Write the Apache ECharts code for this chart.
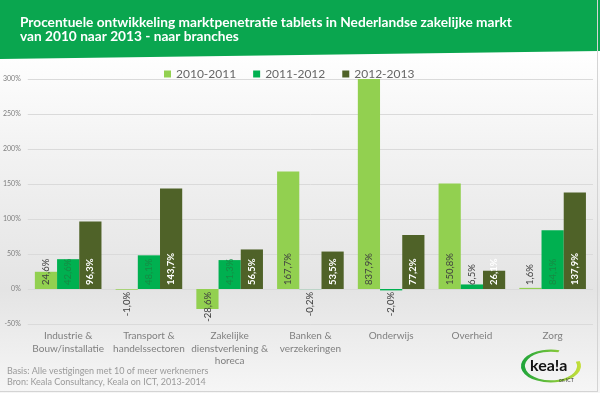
<!DOCTYPE html>
<html>
<head>
<meta charset="utf-8">
<script src="https://cdn.jsdelivr.net/npm/echarts@6/dist/echarts.min.js"></script>
<style>
html,body{margin:0;padding:0;background:#fff;}
#chart{width:600px;height:393px;}
</style>
</head>
<body>
<div id="chart"></div>
<script>
// ---- data ----
const titleLines = ['Procentuele ontwikkeling marktpenetratie tablets in Nederlandse zakelijke markt', 'van 2010 naar 2013 - naar branches'];
const categories = ['Industrie &\nBouw/installatie', 'Transport &\nhandelssectoren', 'Zakelijke\ndienstverlening &\nhoreca', 'Banken &\nverzekeringen', 'Onderwijs', 'Overheid', 'Zorg'];
const seriesNames = ['2010-2011', '2011-2012', '2012-2013'];
const values2010_2011 = [24.6, -1.0, -28.6, 167.7, 837.9, 150.8, 1.6];
const values2011_2012 = [42.6, 48.1, 41.3, -0.2, -2.0, 6.5, 84.1];
const values2012_2013 = [96.3, 143.7, 56.5, 53.5, 77.2, 26.1, 137.9];
const yMin = -50, yMax = 300, yInterval = 50;
const footerLines = ['Basis: Alle vestigingen met 10 of meer werknemers', 'Bron: Keala Consultancy, Keala on ICT, 2013-2014'];

// ---- styling ----
const FONT = 'Lato';
const colors = ['#92d050', '#00b050', '#4f6228'];

function fmt(v) { return v.toFixed(1).replace('.', ',') + '%'; }

function buildData(vals, idx) {
  return vals.map(v => {
    let color, weight = 'normal';
    if (idx === 2) { color = '#ffffff'; weight = 'bold'; }
    else if (idx === 1) { color = (v > 20) ? '#168a44' : '#404040'; }
    else { color = '#404040'; }
    const neg = v < 0;
    return {
      value: v,
      label: {
        show: true,
        formatter: fmt(v),
        rotate: 90,
        position: neg ? 'insideTop' : 'insideBottom',
        distance: neg ? 3 : 4,
        align: neg ? 'right' : 'left',
        verticalAlign: 'middle',
        color: color,
        fontWeight: weight,
        fontFamily: FONT,
        fontSize: 9.5
      }
    };
  });
}

const allVals = [values2010_2011, values2011_2012, values2012_2013];

const chart = echarts.init(document.getElementById('chart'), null, {renderer: 'canvas'});
chart.setOption({
  animation: false,
  backgroundColor: '#ffffff',
  textStyle: {fontFamily: FONT},
  graphic: [
    {type: 'rect', z: -10, silent: true, shape: {x: 0, y: 50, width: 600, height: 343},
     style: {fill: new echarts.graphic.LinearGradient(0, 0, 0, 1, [
       {offset: 0, color: '#ffffff'}, {offset: 0.3, color: '#f2f2f2'}, {offset: 0.7, color: '#e4e4e4'}, {offset: 1, color: '#f6f6f6'}])}},
    {type: 'polygon', z: 1, silent: true, shape: {points: [[0, 0], [600, 0], [600, 51], [0, 59]]}, style: {fill: '#0aa64f'}},
    {type: 'text', z: 2, left: 20, top: 16, style: {text: titleLines.join('\n'), fill: '#ffffff', font: 'bold 13.7px ' + FONT, lineHeight: 14}},
    {type: 'text', z: 2, left: 7, top: 366, style: {text: footerLines.join('\n'), fill: '#9a9a9a', font: '9px ' + FONT, lineHeight: 11}},
    {type: 'line', z: 2, shape: {x1: 597.5, y1: 0, x2: 597.5, y2: 391}, style: {stroke: '#d4d4d4', lineWidth: 1}},
    {type: 'line', z: 2, shape: {x1: 0, y1: 391.5, x2: 598, y2: 391.5}, style: {stroke: '#d4d4d4', lineWidth: 1}},
    // logo
    {type: 'group', z: 3, x: 551, y: 366, children: [
      {type: 'arc', scaleY: 0.55, shape: {cx: 0, cy: 0, r: 28, startAngle: -0.3, endAngle: 5.0},
       style: {stroke: new echarts.graphic.LinearGradient(0, 0, 1, 0, [{offset: 0, color: '#1aa33a'}, {offset: 1, color: '#c8e03a'}]), lineWidth: 4, fill: null}},
      {type: 'text', x: -21, y: -8, style: {text: 'kea!a', fill: '#111', font: 'bold 16px ' + FONT}},
      {type: 'text', x: 8, y: 12, style: {text: 'on ICT', fill: '#333', font: '5px ' + FONT}}
    ]}
  ],
  legend: {
    data: seriesNames,
    left: 159, top: 63,
    itemWidth: 7, itemHeight: 7, itemGap: 17,
    icon: 'rect',
    textStyle: {color: '#666666', fontSize: 12, fontFamily: FONT}
  },
  grid: {left: 25, right: 7, top: 79, bottom: 69, containLabel: false},
  xAxis: {
    type: 'category',
    data: categories,
    axisLine: {show: false},
    axisTick: {show: false},
    axisLabel: {interval: 0, color: '#7f7f7f', fontSize: 10, lineHeight: 12.5, margin: 6, fontFamily: FONT}
  },
  yAxis: {
    type: 'value',
    min: yMin, max: yMax, interval: yInterval,
    axisLine: {show: false},
    axisTick: {show: false},
    axisLabel: {formatter: '{value}%', color: '#7f7f7f', fontSize: 7, margin: 7, fontFamily: FONT},
    splitLine: {lineStyle: {color: '#dadada'}}
  },
  series: seriesNames.map((name, i) => ({
    name: name,
    type: 'bar',
    data: buildData(allVals[i], i),
    itemStyle: {color: colors[i]},
    barGap: '0%',
    barCategoryGap: '17.5%',
    clip: true
  }))
});
</script>
</body>
</html>
